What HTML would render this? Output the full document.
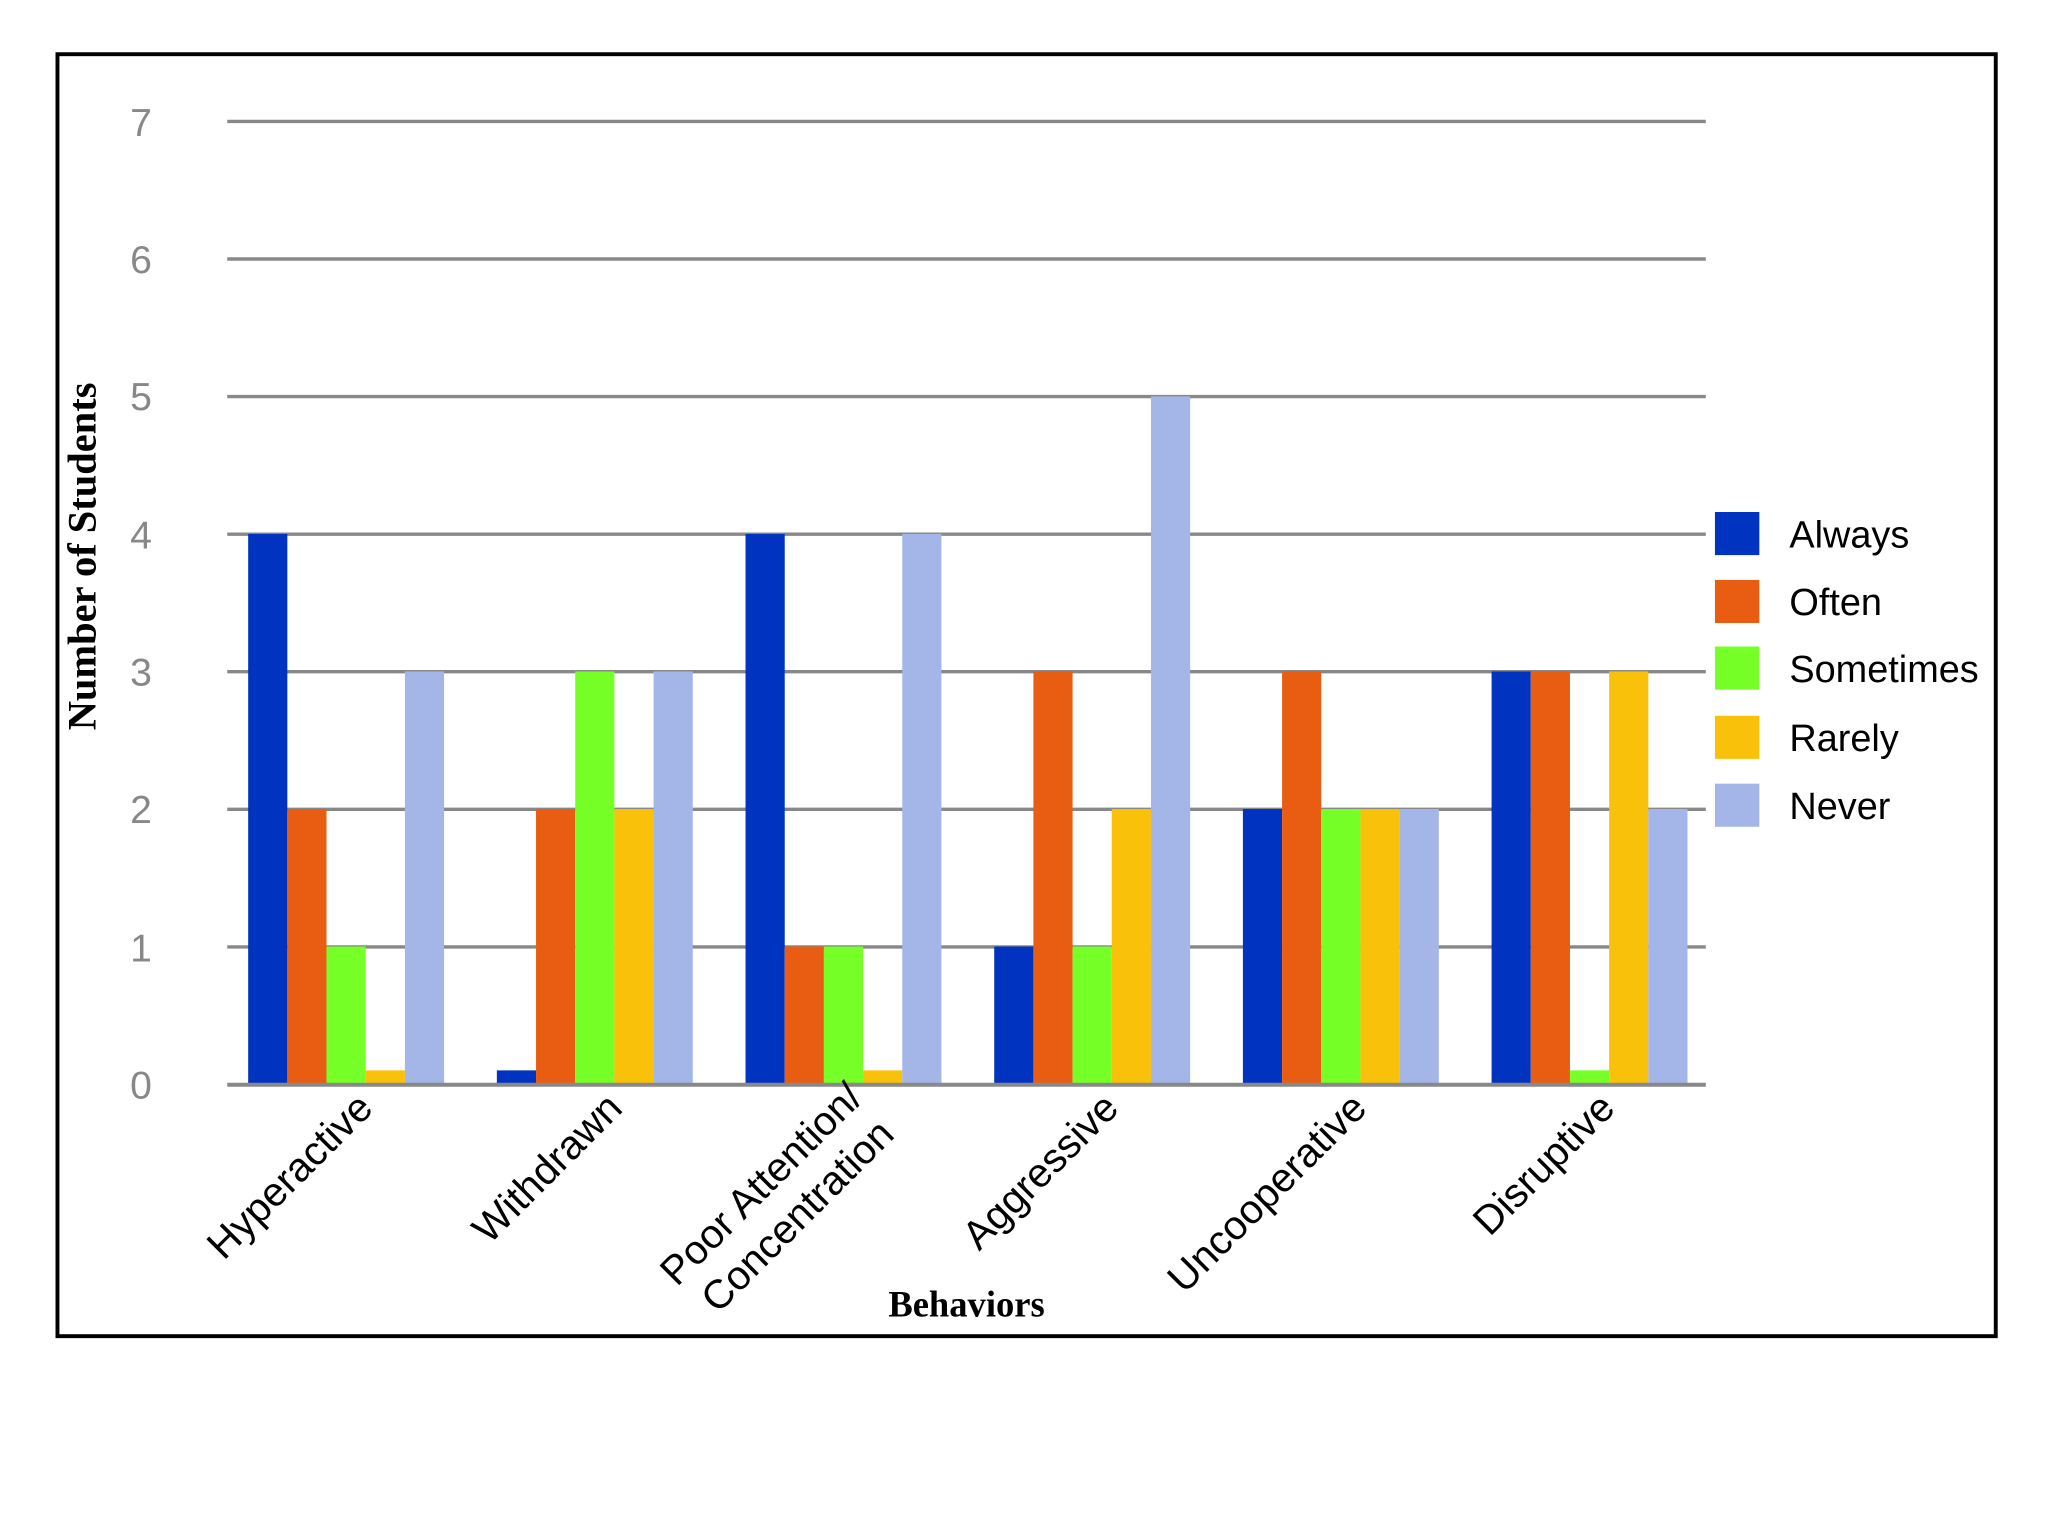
<!DOCTYPE html>
<html><head><style>html,body{margin:0;padding:0;background:#fff;}svg{display:block;}</style></head>
<body>
<svg width="2048" height="1536" viewBox="0 0 1568 1176" xmlns="http://www.w3.org/2000/svg" font-family="Liberation Sans, sans-serif">
<rect x="0" y="0" width="1568" height="1176" fill="#fff"/>
<rect x="44" y="41.5" width="1484" height="981.5" fill="none" stroke="#000" stroke-width="3"/>
<g stroke="#888" stroke-width="2.6">
<line x1="174" x2="1306" y1="93" y2="93"/>
<line x1="174" x2="1306" y1="198.3" y2="198.3"/>
<line x1="174" x2="1306" y1="303.6" y2="303.6"/>
<line x1="174" x2="1306" y1="409" y2="409"/>
<line x1="174" x2="1306" y1="514.3" y2="514.3"/>
<line x1="174" x2="1306" y1="619.6" y2="619.6"/>
<line x1="174" x2="1306" y1="725" y2="725"/>
</g>
<g fill="#888" font-size="30" text-anchor="middle">
<text x="108" y="104">7</text><text x="108" y="209">6</text><text x="108" y="314">5</text>
<text x="108" y="420">4</text><text x="108" y="525">3</text><text x="108" y="630">2</text>
<text x="108" y="736">1</text><text x="108" y="841">0</text>
</g>
<g>
<rect x="190" y="408.8" width="30" height="421.2" fill="#0033BF"/>
<rect x="220" y="619.4" width="30" height="210.6" fill="#E85D12"/>
<rect x="250" y="724.7" width="30" height="105.3" fill="#77FF28"/>
<rect x="280" y="819.5" width="30" height="10.5" fill="#FAC10A"/>
<rect x="310" y="514.1" width="30" height="315.9" fill="#A4B6E8"/>

<rect x="380.4" y="819.5" width="30" height="10.5" fill="#0033BF"/>
<rect x="410.4" y="619.4" width="30" height="210.6" fill="#E85D12"/>
<rect x="440.4" y="514.1" width="30" height="315.9" fill="#77FF28"/>
<rect x="470.4" y="619.4" width="30" height="210.6" fill="#FAC10A"/>
<rect x="500.4" y="514.1" width="30" height="315.9" fill="#A4B6E8"/>

<rect x="570.8" y="408.8" width="30" height="421.2" fill="#0033BF"/>
<rect x="600.8" y="724.7" width="30" height="105.3" fill="#E85D12"/>
<rect x="630.8" y="724.7" width="30" height="105.3" fill="#77FF28"/>
<rect x="660.8" y="819.5" width="30" height="10.5" fill="#FAC10A"/>
<rect x="690.8" y="408.8" width="30" height="421.2" fill="#A4B6E8"/>

<rect x="761.2" y="724.7" width="30" height="105.3" fill="#0033BF"/>
<rect x="791.2" y="514.1" width="30" height="315.9" fill="#E85D12"/>
<rect x="821.2" y="724.7" width="30" height="105.3" fill="#77FF28"/>
<rect x="851.2" y="619.4" width="30" height="210.6" fill="#FAC10A"/>
<rect x="881.2" y="303.5" width="30" height="526.5" fill="#A4B6E8"/>

<rect x="951.6" y="619.4" width="30" height="210.6" fill="#0033BF"/>
<rect x="981.6" y="514.1" width="30" height="315.9" fill="#E85D12"/>
<rect x="1011.6" y="619.4" width="30" height="210.6" fill="#77FF28"/>
<rect x="1041.6" y="619.4" width="30" height="210.6" fill="#FAC10A"/>
<rect x="1071.6" y="619.4" width="30" height="210.6" fill="#A4B6E8"/>

<rect x="1142" y="514.1" width="30" height="315.9" fill="#0033BF"/>
<rect x="1172" y="514.1" width="30" height="315.9" fill="#E85D12"/>
<rect x="1202" y="819.5" width="30" height="10.5" fill="#77FF28"/>
<rect x="1232" y="514.1" width="30" height="315.9" fill="#FAC10A"/>
<rect x="1262" y="619.4" width="30" height="210.6" fill="#A4B6E8"/>
</g>
<line x1="174" x2="1306" y1="830.5" y2="830.5" stroke="#888" stroke-width="3"/>
<text transform="translate(73,426) rotate(-90)" text-anchor="middle" font-family="Liberation Serif, serif" font-weight="bold" font-size="31">Number of Students</text>
<text x="740" y="1008" text-anchor="middle" font-family="Liberation Serif, serif" font-weight="bold" font-size="28">Behaviors</text>
<g font-size="31" text-anchor="end" fill="#000">
<text transform="translate(287,850) rotate(-45)">Hyperactive</text>
<text transform="translate(478,850) rotate(-45)">Withdrawn</text>
<text transform="translate(662,842) rotate(-45)">Poor Attention/</text>
<text transform="translate(686,870) rotate(-45)">Concentration</text>
<text transform="translate(858,850) rotate(-45)">Aggressive</text>
<text transform="translate(1048,850) rotate(-45)">Uncooperative</text>
<text transform="translate(1238,850) rotate(-45)">Disruptive</text>
</g>
<g>
<rect x="1313" y="392" width="34" height="33" fill="#0033BF"/>
<rect x="1313" y="444" width="34" height="33" fill="#E85D12"/>
<rect x="1313" y="495" width="34" height="33" fill="#77FF28"/>
<rect x="1313" y="548" width="34" height="33" fill="#FAC10A"/>
<rect x="1313" y="600" width="34" height="33" fill="#A4B6E8"/>
</g>
<g font-size="29" fill="#000">
<text x="1370" y="419">Always</text>
<text x="1370" y="471">Often</text>
<text x="1370" y="522">Sometimes</text>
<text x="1370" y="575">Rarely</text>
<text x="1370" y="627">Never</text>
</g>
</svg>
</body></html>
